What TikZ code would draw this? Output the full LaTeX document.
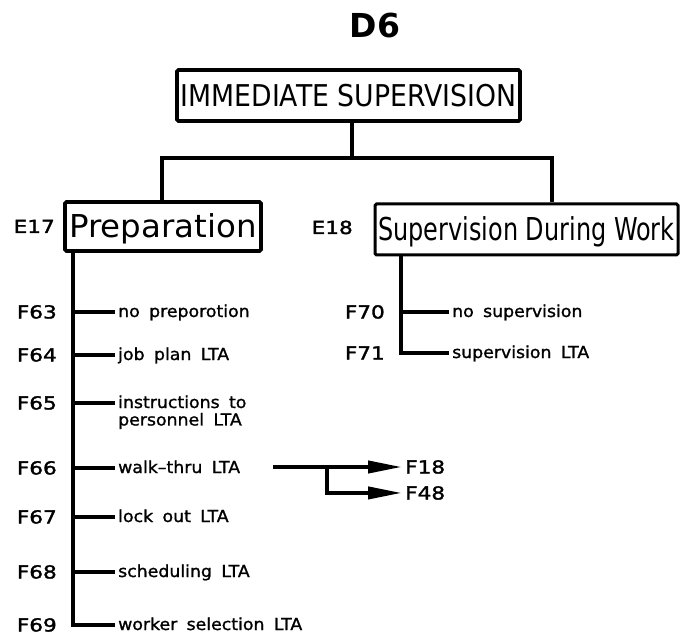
\documentclass[tikz,border=0pt]{standalone}
\usepackage{fontspec}
\setmainfont{DejaVu Sans}
\newfontfamily\labfam[WordSpace=1.7,FakeBold=1.2]{DejaVu Sans}
\newfontfamily\flfam[FakeBold=1.5]{DejaVu Sans}
\newfontfamily\boldfam{DejaVu Sans Bold}
\usetikzlibrary{arrows.meta}
\newcommand\hs[2]{\scalebox{#1}[1]{#2}}
\newcommand\fl[1]{\scalebox{1.2}[1]{#1}}
\newcommand\lt[1]{\scalebox{1.05}[1]{#1}}
\begin{document}
\begin{tikzpicture}[x=1pt,y=1pt,
  tree/.style={line width=4pt},
  twig/.style={line width=3.2pt, shorten >=3pt},
  frame/.style={draw, line width=3.8pt, rounded corners=1.5pt, inner sep=0pt},
  flab/.style={anchor=base east, inner sep=0pt, font=\flfam\fontsize{18}{18}\selectfont},
  lab/.style={anchor=base west, inner sep=0pt, font=\labfam\fontsize{16.5}{16.5}\selectfont},
  tip/.style={-{Triangle[length=34pt,width=12pt]}, shorten >=3pt}
]
\useasboundingbox (0,0) rectangle (685,-636);

% title
\node[anchor=base, inner sep=0pt, font=\boldfam\fontsize{33}{33}\selectfont] (title) at (375,-38) {D6};

% boxes
\node[frame, minimum width=343pt, minimum height=51pt, text height=22pt, text depth=0pt,
      font=\fontsize{30}{30}\selectfont] (top) at (348.5,-95.5) {\hs{0.89}{IMMEDIATE SUPERVISION}};
\node[frame, minimum width=196pt, minimum height=49pt, text height=23pt, text depth=0pt,
      font=\fontsize{31.5}{31.5}\selectfont] (prep) at (163,-226.5) {\hs{1.03}{Preparation}};
\node[frame, minimum width=303pt, minimum height=51pt, text height=23pt, text depth=0pt,
      line width=3pt, font=\fontsize{31.5}{31.5}\selectfont] (sup) at (526.5,-229.5) {\hs{0.76}{Supervision During Work}};

\node[flab] (e17) at (55,-233) {\fl{E17}};
\node[flab] (e18) at (353,-234) {\fl{E18}};

% connectors from the top box
\coordinate (hub) at (352,-158);
\coordinate (hl) at (162,-158);
\coordinate (hr) at (552,-158);
\draw[tree] (hub |- top.south) -- (hub);
\draw[tree] (prep.north -| hl) -- (hl) -- (hr) -- (hr |- sup.north);

% left branch labels
\node[flab] (f63) at (57,-318.5) {\fl{F63}};
\node[flab] (f64) at (57,-361.5) {\fl{F64}};
\node[flab] (f65) at (57,-409.5) {\fl{F65}};
\node[flab] (f66) at (57,-474.5) {\fl{F66}};
\node[flab] (f67) at (57,-523.5) {\fl{F67}};
\node[flab] (f68) at (57,-578.5) {\fl{F68}};
\node[flab] (f69) at (57,-631.5) {\fl{F69}};

\node[lab] (l63) at (118,-317) {\lt{no preporotion}};
\node[lab] (l64) at (118,-360) {\lt{job plan LTA}};
\node[lab] (l65) at (118,-408) {\lt{\begin{tabular}[t]{@{}l@{}}instructions to\\personnel LTA\end{tabular}}};
\node[lab] (l66) at (118,-473) {\lt{walk–thru LTA}};
\node[lab] (l67) at (118,-522) {\lt{lock out LTA}};
\node[lab] (l68) at (118,-577) {\lt{scheduling LTA}};
\node[lab] (l69) at (118,-630) {\lt{worker selection LTA}};

\coordinate (b63) at (73,-312);
\coordinate (b64) at (73,-355);
\coordinate (b65) at (73,-403);
\coordinate (b66) at (73,-468);
\coordinate (b67) at (73,-517);
\coordinate (b68) at (73,-572);
\coordinate (b69) at (73,-625);

\draw[tree, shorten >=3pt] (b69 |- prep.south) |- (b69 -| l69.west);
\foreach \b/\l in {b63/l63, b64/l64, b65/l65, b66/l66, b67/l67, b68/l68}
  \draw[twig] (\b) -- (\b -| \l.west);

% right branch labels
\node[flab] (f70) at (385,-318.5) {\fl{F70}};
\node[flab] (f71) at (385,-359.5) {\fl{F71}};
\node[lab] (l70) at (452,-317) {\lt{no supervision}};
\node[lab] (l71) at (452,-358) {\lt{supervision LTA}};

\coordinate (b70) at (401,-312);
\coordinate (b71) at (401,-353);
\draw[tree, shorten >=3pt] (b71 |- sup.south) |- (b71 -| l71.west);
\draw[twig] (b70) -- (b70 -| l70.west);

% walk-thru arrows
\node[anchor=base west, inner sep=0pt, font=\flfam\fontsize{18}{18}\selectfont] (f18) at (405,-473.5) {\fl{F18}};
\node[anchor=base west, inner sep=0pt, font=\flfam\fontsize{18}{18}\selectfont] (f48) at (405,-499.5) {\fl{F48}};
\coordinate (a0) at (273,-467);
\coordinate (ab) at (327,-467);
\draw[tree, tip] (a0) -- (a0 -| f18.west);
\draw[tree, tip] (ab) |- (f48.west);
\end{tikzpicture}
\end{document}
